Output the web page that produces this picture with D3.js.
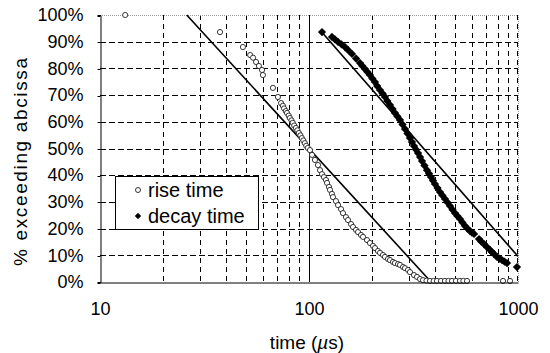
<!DOCTYPE html>
<html>
<head>
<meta charset="utf-8">
<script src="https://cdn.jsdelivr.net/npm/d3@7"></script>
<style>
  body { margin: 0; background: #fff; }
  svg text { font-family: "Liberation Sans", Arial, sans-serif; fill: #000; }
</style>
</head>
<body>
<div id="chart"></div>
<script>
'use strict';

// data
const riseTime = [13.2, 37.5, 48.3, 52.3, 54, 55.8, 57.6, 59.6, 60.2, 67.2, 71, 73.5, 75, 76, 77.5,
  78.5, 80, 81, 82.5, 83.6, 85, 86.6, 88, 89.4, 91, 92.4, 94, 95.5, 97, 98.7,
  101.1, 103.4, 106.8, 110.4, 112.9, 115.4, 117.9, 120.6, 122, 124.6, 126, 128.8, 130.2, 134.6,
  137.7, 142.3, 145.4, 150.3, 153.7, 158.9, 162.4, 167.9, 171.6, 177.4, 181.3, 189.5, 195.8,
  202.4, 206.9, 213.8, 218.7, 226, 231, 238.8, 244.1, 252.3, 257.9, 266.6, 272.5, 281.8, 288,
  297.7, 304.2, 318, 328.7, 339.8, 351.2, 365, 379.3, 395, 409.6, 428, 447.4, 465, 483.3, 505,
  527.8, 548, 570.2, 847.7, 915.7];
const risePct = [100, 93.6, 88, 85, 84, 82.4, 80.9, 79.4, 77.5, 72.7, 69.3, 67, 66, 65, 64,
  63.3, 62.3, 61.4, 60.5, 59.6, 58.6, 57.7, 56.8, 55.8, 54.9, 53.9, 53, 52, 51, 50.2,
  49.4, 47.6, 45.7, 43.8, 41.9, 40.4, 39.3, 38.2, 37.1, 35.6, 34.5, 33, 31.8, 30.3,
  28.8, 27.3, 25.8, 24.3, 23.2, 21.7, 20.6, 19.5, 18.7, 17.6, 16.9, 15.7, 14.6,
  13.5, 12.7, 11.6, 10.9, 10.1, 9.4, 8.6, 8.2, 7.5, 7.1, 6.7, 6.4, 5.6, 5.2,
  4.5, 3.7, 2.6, 1.9, 1.1, 0.7, 0.5, 0.4, 0.4, 0.4, 0.4, 0.4, 0.4, 0.4, 0.4,
  0.4, 0.4, 0.4, 0.4, 0.4];

const decayTime = [115.4, 128.8, 133, 137.7, 143, 148.7, 154, 160.6, 168, 175.4, 180, 185.3, 190,
  195.8, 201, 206.9, 212, 218.7, 225, 231, 237, 244.1, 251, 257.9, 265, 272.5, 280, 288, 296,
  304.2, 311, 318, 325, 332.4, 340, 347.3, 357, 366.9, 375, 383.4, 392, 400.7, 412, 423.4, 435,
  447.4, 460, 472.7, 486, 499.5, 513, 527.8, 542, 557.8, 573, 589.4, 602, 616,
  650.9, 668, 687.8, 710, 734.5, 750, 767.7, 793.4, 815, 838.4, 862, 886, 989];
const decayPct = [93.6, 91.8, 90.9, 89.9, 89, 88, 86.8, 85.4, 83.7, 82, 80.9, 79.8, 78.7,
  77.5, 76.2, 74.9, 73.4, 71.9, 70.6, 69.3, 67.8, 66.3, 64.8, 63.3, 62, 60.7, 59, 57.3, 55.6,
  53.9, 52.4, 50.9, 49.6, 48.3, 46.8, 45.3, 43.6, 41.9, 40.6, 39.3, 38, 36.7, 35.2, 33.7, 32.4,
  31.1, 29.8, 28.5, 27.1, 25.8, 24.7, 23.6, 22.3, 21, 20, 19.1, 18.5, 18,
  16.1, 15.1, 14.2, 13.1, 12, 11.2, 10.5, 9.4, 8.8, 8.2, 7.6, 7.1, 5.6];

// fitted straight lines (end points)
const riseFitTime = [26, 384];
const riseFitPct = [100, 0];
const decayFitTime = [115, 1000];
const decayFitPct = [93.6, 9.6];

const yTicks = [0, 10, 20, 30, 40, 50, 60, 70, 80, 90, 100];
const xMajor = [10, 100, 1000];
const xMinor = [20, 30, 40, 50, 60, 70, 80, 90, 200, 300, 400, 500, 600, 700, 800, 900];
const legendLabels = ['rise time', 'decay time'];

drawChart('#chart');

function drawChart(el) {
  const width = 550;
  const height = 353;
  const left = 100;
  const top = 15;
  const right = 518;
  const bottom = 282;

  const svg = d3.select(el)
    .append('svg')
    .attr('width', width)
    .attr('height', height);

  const scaleX = d3.scaleLog()
    .domain([10, 1000])
    .range([left, right]);

  const scaleY = d3.scaleLinear()
    .domain([0, 100])
    .range([bottom, top]);

  const px = v => Math.round(v) + 0.5;

  // horizontal grid
  svg.append('g')
    .selectAll('line')
    .data(yTicks.filter(d => d > 0 && d < 100))
    .enter()
    .append('line')
    .attr('x1', left).attr('x2', right)
    .attr('y1', d => px(scaleY(d))).attr('y2', d => px(scaleY(d)))
    .attr('stroke', '#000')
    .attr('stroke-dasharray', '6,3');

  // vertical minor grid
  svg.append('g')
    .selectAll('line')
    .data(xMinor)
    .enter()
    .append('line')
    .attr('x1', d => px(scaleX(d))).attr('x2', d => px(scaleX(d)))
    .attr('y1', top).attr('y2', bottom)
    .attr('stroke', '#000')
    .attr('stroke-dasharray', '5,4');

  // plot border (top, right) grey dotted
  svg.append('path')
    .attr('d', `M${left},${top + 0.5}H${right + 0.5}V${bottom}`)
    .attr('fill', 'none')
    .attr('stroke', '#999')
    .attr('stroke-dasharray', '1,1');

  svg.append('line')
    .attr('x1', scaleX(1000) - 0.5).attr('x2', scaleX(1000) - 0.5)
    .attr('y1', top).attr('y2', bottom)
    .attr('stroke', '#000')
    .attr('stroke-dasharray', '5,4');

  // major vertical line at 100
  svg.append('line')
    .attr('x1', px(scaleX(100))).attr('x2', px(scaleX(100)))
    .attr('y1', top).attr('y2', bottom)
    .attr('stroke', '#000');

  // fitted lines
  const line = d3.line()
    .x(d => scaleX(d[0]))
    .y(d => scaleY(d[1]));

  svg.append('path')
    .attr('d', line(d3.zip(riseFitTime, riseFitPct)))
    .attr('fill', 'none')
    .attr('stroke', '#000')
    .attr('stroke-width', 1.6);

  svg.append('path')
    .attr('d', line(d3.zip(decayFitTime, decayFitPct)))
    .attr('fill', 'none')
    .attr('stroke', '#000')
    .attr('stroke-width', 1.6);

  // rise time points
  svg.append('g')
    .selectAll('circle')
    .data(d3.zip(riseTime, risePct))
    .enter()
    .append('circle')
    .attr('cx', d => scaleX(d[0]))
    .attr('cy', d => scaleY(d[1]))
    .attr('r', 2.6)
    .attr('fill', '#fff')
    .attr('stroke', '#222')
    .attr('stroke-width', 0.9);

  // decay time points
  const diamond = d3.symbol().type(d3.symbolSquare).size(34);
  svg.append('g')
    .selectAll('path')
    .data(d3.zip(decayTime, decayPct))
    .enter()
    .append('path')
    .attr('d', diamond)
    .attr('transform', d => `translate(${scaleX(d[0])},${scaleY(d[1])}) rotate(45)`)
    .attr('fill', '#000');

  // axes
  const axisY = d3.axisLeft(scaleY)
    .tickValues(yTicks)
    .tickSize(3)
    .tickPadding(14)
    .tickFormat(d => d + '%');
  const gy = svg.append('g')
    .attr('transform', `translate(${left + 0.5},0)`)
    .call(axisY);
  gy.select('.domain').attr('stroke', '#000');
  gy.selectAll('.tick line').attr('transform', function () {
    const y = +this.parentNode.getAttribute('transform').match(/,([\d.]+)/)[1];
    return `translate(0,${Math.round(y) + 0.5 - y})`;
  });
  gy.selectAll('text').style('font-size', '18px');

  const axisX = d3.axisBottom(scaleX)
    .tickValues(xMajor)
    .tickSize(0)
    .tickPadding(20)
    .tickFormat(d3.format('d'));
  const gx = svg.append('g')
    .attr('transform', `translate(0,${bottom + 0.5})`)
    .call(axisX);
  gx.select('.domain').attr('stroke', '#000');
  gx.selectAll('text').style('font-size', '18px');

  // axis titles
  const xTitle = svg.append('text')
    .attr('x', 307)
    .attr('y', 349)
    .attr('text-anchor', 'middle')
    .style('font-size', '19px');
  xTitle.append('tspan').text('time (');
  xTitle.append('tspan').style('font-style', 'italic').text('\u00b5');
  xTitle.append('tspan').text('s)');

  svg.append('text')
    .attr('transform', 'translate(27,162) rotate(-90)')
    .attr('text-anchor', 'middle')
    .attr('textLength', 208)
    .attr('lengthAdjust', 'spacing')
    .style('font-size', '19px')
    .text('% exceeding abcissa');

  // legend
  const legend = svg.append('g');
  legend.append('rect')
    .attr('x', 115.5).attr('y', 176.5)
    .attr('width', 143).attr('height', 53)
    .attr('fill', '#fff')
    .attr('stroke', '#000');

  legend.append('circle')
    .attr('cx', 138).attr('cy', 190)
    .attr('r', 2.5)
    .attr('fill', '#fff')
    .attr('stroke', '#333');
  legend.append('path')
    .attr('d', d3.symbol().type(d3.symbolSquare).size(20))
    .attr('transform', 'translate(138,216) rotate(45)')
    .attr('fill', '#000');

  legend.selectAll('text')
    .data(legendLabels)
    .enter()
    .append('text')
    .attr('x', 148)
    .attr('y', (d, i) => 197 + i * 26)
    .style('font-size', '20px')
    .text(d => d);
}
</script>
</body>
</html>
